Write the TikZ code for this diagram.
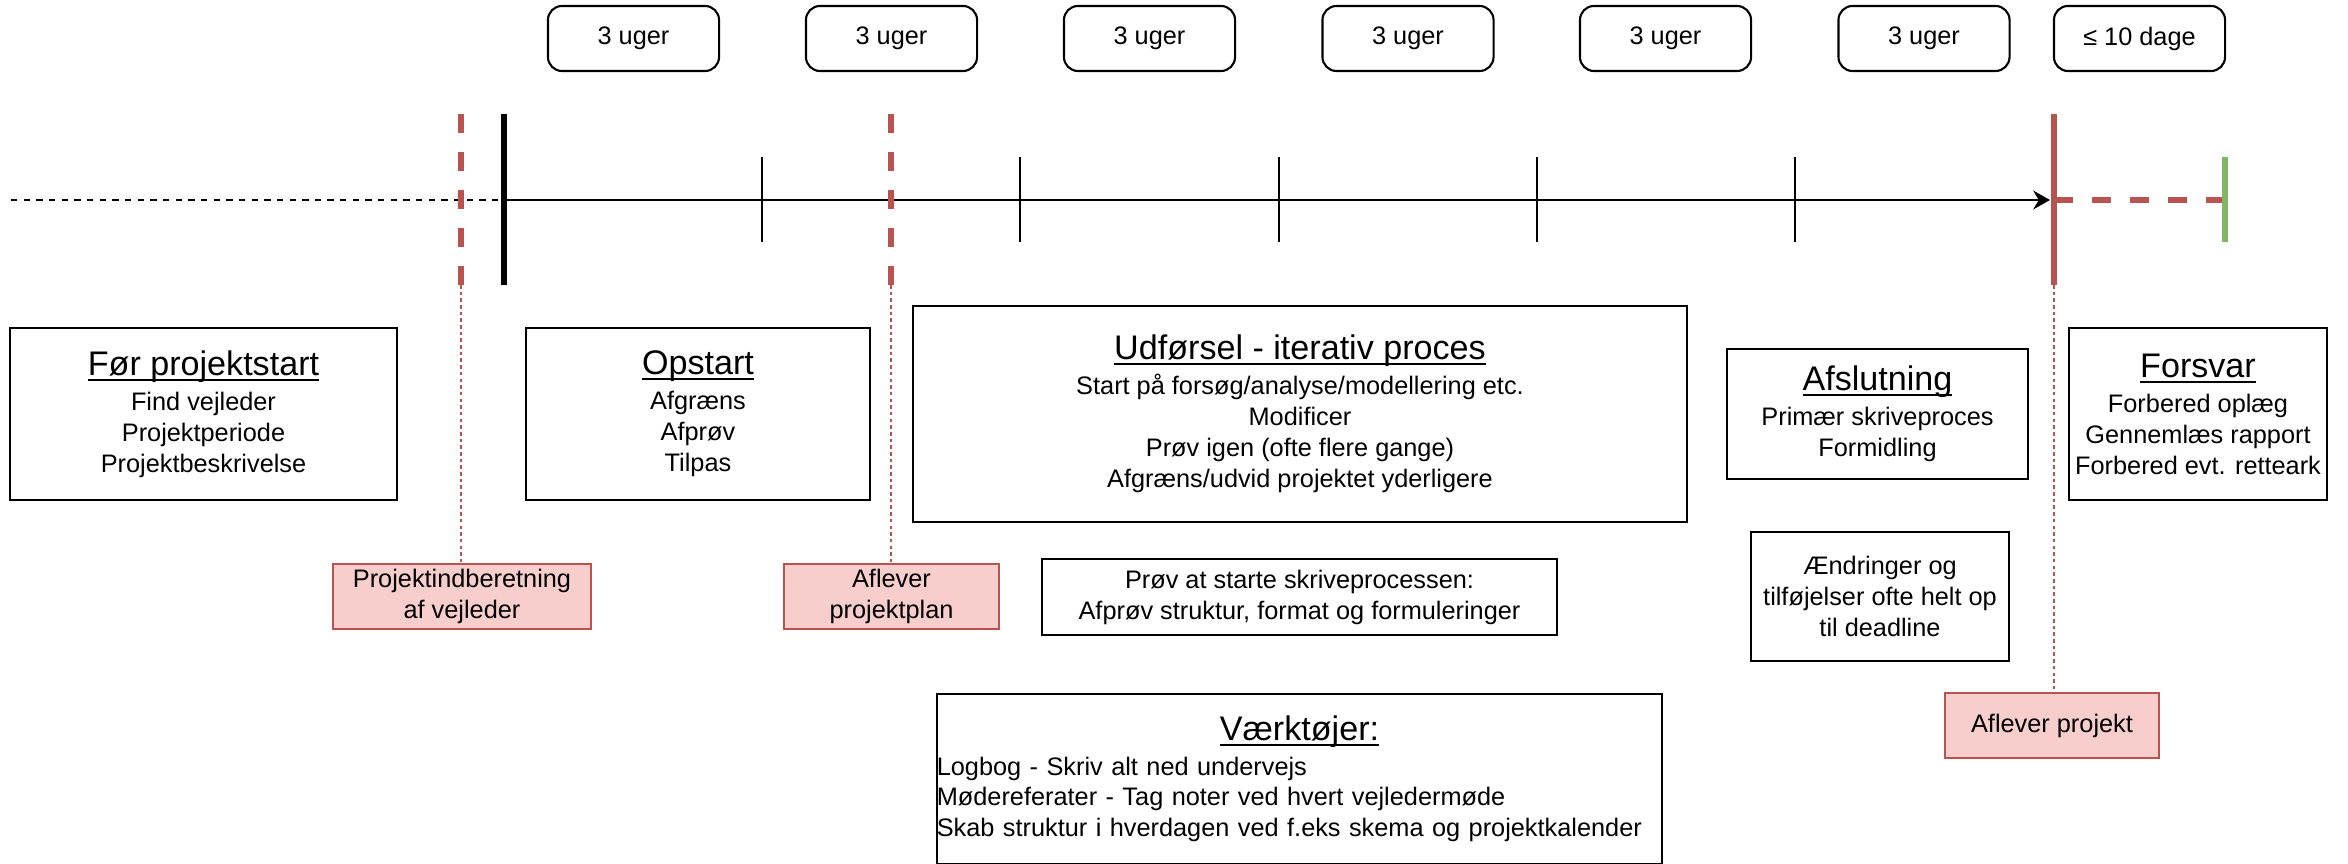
\documentclass[tikz,border=0pt]{standalone}
\usepackage{fontspec}
\setmainfont{Liberation Sans}
\usetikzlibrary{arrows.meta}
\usetikzlibrary{positioning}
\definecolor{redline}{HTML}{B85450}
\definecolor{redfill}{HTML}{F8CECC}
\definecolor{greenline}{HTML}{82B366}
\newcommand{\phasetitle}[1]{{\fontsize{9.7}{11}\selectfont\setbox0\hbox{#1}%
	\rlap{\vrule height -1pt depth 1.6pt width \wd0}\box0}}

\begin{document}
\begin{tikzpicture}[x=0.01cm, y=-0.01cm,
    every node/.style={font=\fontsize{7.2}{8.8}\selectfont, align=center, inner sep=0pt},
    periodbox/.style={draw, rounded corners=4pt, line width=0.6pt, minimum width=1.71cm, minimum height=0.65cm},
    phasebox/.style={draw, line width=0.6pt},
    deadlinebox/.style={draw=redline, fill=redfill, line width=0.6pt},
    thickdash/.style={draw=redline, line width=1.7pt, dash pattern=on 5.4pt off 5.4pt},
    thindash/.style={draw=redline, line width=0.4pt, dash pattern=on 1pt off 0.9pt}]
	\useasboundingbox (0,0) rectangle (2348,864);

	% perioder
	\begin{scope}[every node/.append style={periodbox}]
		\node (p1) at (633.5,38.5) {3 uger};
		\node (p2) at (891.5,38.5) {3 uger};
		\node (p3) at (1149.5,38.5) {3 uger};
		\node (p4) at (1408,38.5) {3 uger};
		\node (p5) at (1665.5,38.5) {3 uger};
		\node (p6) at (1924,38.5) {3 uger};
		\node (p7) at (2139.5,38.5) {≤ 10 dage};
	\end{scope}

	% tidslinje
	\coordinate (far) at (11,200);
	\coordinate (start) at (504,200);
	\coordinate (deadline) at (2054,200);
	\coordinate (defence) at (2225,200);
	\draw[line width=0.57pt, dash pattern=on 1.8pt off 1.8pt] (far) -- (start);
	\draw[line width=0.57pt, -{Stealth[length=4.8pt, width=5.4pt, inset=1.6pt]}] (start) -- ([xshift=-0.04cm]deadline);
	\foreach \x in {762,1020,1279,1537,1795}
		\draw[line width=0.4pt] (\x,157) -- (\x,242);
	\draw[line width=1.7pt] (504,114) -- (504,285);
	\draw[thickdash] (461,114) -- (461,285) coordinate (m1);
	\draw[thickdash] (891,114) -- (891,285) coordinate (m2);
	\draw[draw=redline, line width=1.7pt] (2054,114) -- (2054,285) coordinate (m3);
	\draw[thickdash] (deadline) -- (defence);
	\draw[draw=greenline, line width=1.7pt] (2225,157) -- (2225,242);

	% faser
	\begin{scope}[every node/.append style={phasebox}]
		\node[minimum width=3.87cm, minimum height=1.72cm] (foer) at (203.5,414)
			{\phasetitle{Før projektstart}\\[1.2pt] Find vejleder\\ Projektperiode\\ Projektbeskrivelse};
		\node[minimum width=3.44cm, minimum height=1.72cm] (opstart) at (698,414)
			{\phasetitle{Opstart}\\[1.2pt] Afgræns\\ Afprøv\\ Tilpas};
		\node[minimum width=7.74cm, minimum height=2.16cm] (udf) at (1300,414)
			{\phasetitle{Udførsel - iterativ proces}\\[1.2pt] Start på forsøg/analyse/modellering etc.\\ Modificer\\ Prøv igen (ofte flere gange)\\ Afgræns/udvid projektet yderligere};
		\node[minimum width=3.01cm, minimum height=1.30cm] (afslut) at (1877.5,414)
			{\phasetitle{Afslutning}\\[1.2pt] Primær skriveproces\\ Formidling};
		\node[minimum width=2.58cm, minimum height=1.72cm] (forsvar) at (2198,414)
			{\phasetitle{Forsvar}\\[1.2pt] Forbered oplæg\\ Gennemlæs rapport\\ Forbered evt. retteark};
		\node[minimum width=5.15cm, minimum height=0.76cm] (skriv) at (1299.5,597)
			{Prøv at starte skriveprocessen:\\ Afprøv struktur, format og formuleringer};
		\node[minimum width=2.58cm, minimum height=1.29cm] (aendr) at (1880,596.5)
			{Ændringer og\\ tilføjelser ofte helt op\\ til deadline};
		\node[text width=7.25cm, minimum height=1.70cm, align=left] (vaerktoej) at (1299.5,779)
			{\centerline{\phasetitle{Værktøjer:}}\vspace{1pt}
			Logbog - Skriv alt ned undervejs\\ Mødereferater - Tag noter ved hvert vejledermøde\\ Skab struktur i hverdagen ved f.eks skema og projektkalender};
	\end{scope}

	% afleveringer
	\begin{scope}[every node/.append style={deadlinebox}]
		\node[minimum width=2.58cm, minimum height=0.65cm] (indb) at (462,596.5) {Projektindberetning\\ af vejleder};
		\node[minimum width=2.15cm, minimum height=0.65cm] (plan) at (891.5,596.5) {Aflever\\ projektplan};
		\node[minimum width=2.14cm, minimum height=0.65cm] (aflever) at (2052,725.5) {Aflever projekt};
	\end{scope}

	\draw[thindash] (m1) -- (indb.north -| m1);
	\draw[thindash] (m2) -- (plan.north -| m2);
	\draw[thindash] (m3) -- (aflever.north -| m3);
\end{tikzpicture}
\end{document}
